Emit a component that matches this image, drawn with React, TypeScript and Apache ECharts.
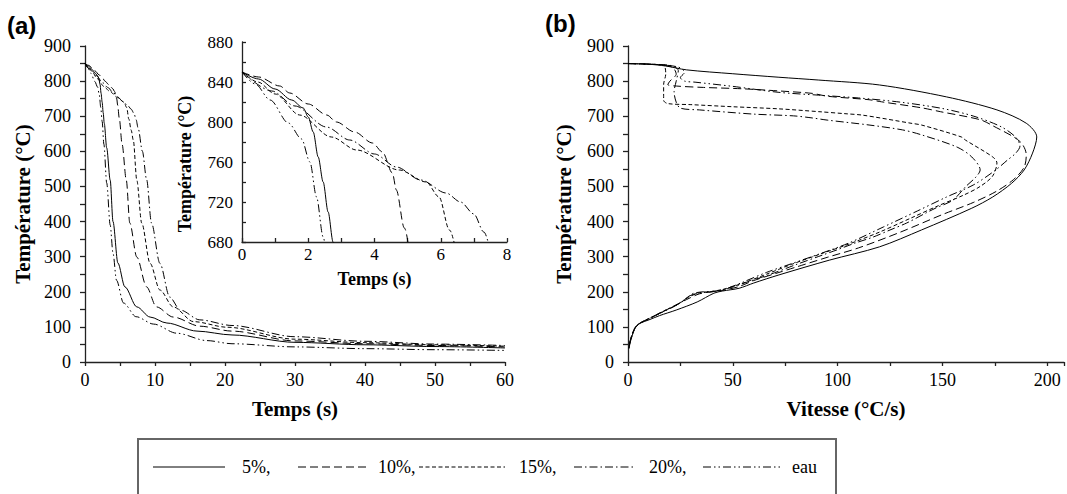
import React, { useEffect, useRef } from "react";
import * as echarts from "echarts";

// ---------- (a) Temps (s) -> Température (°C) ----------
const temps5 = [0, 0.5, 1, 1.5, 1.85, 2.0, 2.15, 2.3, 2.45, 2.6, 2.75, 3.1, 3.6, 4.0, 4.7, 5.7, 7.4, 9.3, 11.7, 16, 21, 30, 40, 50, 60];
const temp5 = [850, 843, 833, 822, 814, 805, 790, 765, 740, 710, 680, 610, 518, 400, 282, 214, 157, 128, 111, 88, 77, 56, 49, 44, 40];

const temps10 = [0, 0.5, 1.14, 1.44, 2.0, 2.56, 2.85, 3.4, 3.94, 4.24, 4.54, 4.66, 4.9, 5.3, 5.9, 6.4, 7.4, 8.8, 10.2, 12.6, 16.4, 21, 30, 40, 50, 60];
const temp10 = [850, 845, 836, 829, 818, 807, 800, 790, 779, 770, 749, 732, 694, 620, 518, 396, 299, 214, 157, 128, 102, 88, 60, 52, 47, 43];

const temps15 = [0, 0.48, 1.0, 1.74, 2.7, 3.46, 4.75, 5.56, 5.95, 6.26, 6.6, 6.9, 7.4, 8.1, 9.3, 10.7, 12.6, 15.5, 20.3, 30, 40, 50, 60];
const temp15 = [850, 840, 828, 807, 785, 772, 752, 740, 725, 692, 660, 632, 518, 396, 281, 205, 157, 115, 99, 65, 55, 49, 45];

const temps20 = [0, 0.9, 1.6, 2.55, 3.25, 4.0, 4.66, 5.4, 6.16, 6.6, 7.0, 7.3, 7.6, 8.2, 8.8, 9.5, 10.7, 12.1, 13.6, 16.4, 21, 30, 40, 50, 60];
const temp20 = [850, 831, 816, 795, 782, 768, 755, 742, 729, 720, 708, 690, 665, 600, 520, 396, 281, 185, 148, 120, 104, 72, 59, 51, 47];

const tempsEau = [0, 0.4, 0.85, 1.4, 1.8, 2.05, 2.25, 2.45, 2.7, 3.1, 3.6, 4.0, 4.5, 5.5, 7.3, 9.8, 13.1, 17.4, 21, 30, 40, 50, 60];
const tempEau = [850, 838, 822, 799, 783, 760, 725, 685, 620, 510, 390, 310, 233, 168, 129, 108, 82, 61, 52, 43, 38, 35, 33];

// ---------- (b) Vitesse (°C/s) -> Température (°C) ----------
const vit5 = [0, 10, 18, 28, 50, 72, 91, 120, 152, 176, 190, 195, 193, 189, 183, 174, 164, 140, 120, 96, 72, 60, 53, 45, 41, 33, 23, 15, 10, 6, 4, 3, 2, 1, 0.5];
const tempV5 = [850, 848, 843, 832, 821, 811, 803, 789, 755, 718, 680, 641, 595, 547, 509, 470, 438, 376, 328, 290, 248, 225, 210, 202, 196, 171, 148, 132, 120, 111, 102, 92, 75, 55, 38];

const vit10 = [0, 12, 21, 23, 20, 19, 23, 36, 55, 72, 88, 95, 115, 121, 140, 149, 168, 174, 187, 190, 189, 184, 176, 165, 150, 130, 110, 95, 80, 72, 60, 53, 46, 40, 34, 28, 22, 15, 10, 6, 4, 3, 2, 1, 0.5];
const tempV10 = [850, 848, 840, 820, 800, 790, 786, 782, 778, 772, 765, 757, 747, 741, 724, 713, 690, 673, 628, 590, 555, 520, 487, 455, 420, 370, 325, 298, 270, 255, 232, 215, 205, 200, 194, 178, 160, 138, 123, 112, 103, 94, 78, 58, 42];

const vit15 = [0, 10, 17, 18, 17, 17, 17, 19, 30, 50, 72, 91, 104, 112, 135, 140, 159, 161, 174, 176, 174, 168, 160, 148, 135, 120, 105, 92, 78, 66, 55, 46, 40, 34, 29, 24, 17, 11, 7, 5, 3, 2, 1, 0.5];
const tempV15 = [850, 848, 845, 820, 790, 760, 745, 736, 733, 727, 721, 713, 707, 703, 680, 675, 641, 632, 584, 567, 530, 500, 475, 445, 410, 370, 335, 308, 278, 250, 225, 208, 201, 197, 185, 165, 145, 127, 115, 107, 93, 78, 58, 42];

const vit20 = [0, 10, 20, 24, 23, 22, 23, 25, 34, 60, 79, 88, 95, 115, 131, 140, 157, 164, 168, 166, 161, 155, 147, 142, 133, 125, 117, 108, 100, 93, 80, 68, 57, 48, 42, 36, 31, 27, 22, 15, 10, 6, 4, 3, 2, 1, 0.5];
const tempV20 = [850, 848, 845, 830, 800, 770, 740, 723, 718, 706, 701, 695, 689, 675, 661, 647, 612, 584, 547, 527, 499, 461, 439, 424, 396, 376, 356, 338, 320, 305, 277, 250, 228, 210, 202, 200, 195, 178, 158, 138, 123, 112, 102, 92, 76, 57, 40];

const vitEau = [0, 14, 24, 27, 25, 27, 32, 50, 72, 91, 110, 130, 150, 165, 178, 185, 187, 185, 181, 175, 165, 152, 138, 122, 105, 90, 78, 66, 55, 46, 40, 35, 30, 25, 18, 12, 8, 5, 3, 2, 1, 0.5];
const tempVEau = [850, 847, 840, 825, 810, 800, 797, 785, 768, 760, 752, 740, 722, 700, 670, 640, 615, 595, 575, 545, 505, 470, 430, 385, 338, 305, 280, 255, 228, 207, 200, 197, 190, 168, 148, 130, 118, 108, 95, 80, 60, 45];

const seriesNames = ["5%", "10%", "15%", "20%", "eau"];
const legendLabels = ["5%,", "10%,", "15%,", "20%,", "eau"];

const zip = (xs: number[], ys: number[]) => xs.map((x, i) => [x, ys[i]]);

const SERIF = "Liberation Serif";
const SANS = "Liberation Sans";
const dashes: any[] = ["solid", [8, 4], [4, 2.5], [8, 3, 1.5, 3], [8, 3, 1.5, 3, 1.5, 3]];

export default function App() {
  const ref = useRef<HTMLDivElement>(null);

  useEffect(() => {
    if (!ref.current) return;
    const chart = echarts.init(ref.current, null, { renderer: "svg" });

    const aData = [zip(temps5, temp5), zip(temps10, temp10), zip(temps15, temp15), zip(temps20, temp20), zip(tempsEau, tempEau)];
    const bData = [zip(vit5, tempV5), zip(vit10, tempV10), zip(vit15, tempV15), zip(vit20, tempV20), zip(vitEau, tempVEau)];

    const axisLineStyle = { color: "#222", width: 1.3 };
    const labelStyle = (size: number) => ({ color: "#000", fontFamily: SERIF, fontSize: size });
    const nameStyle = (size: number) => ({ color: "#000", fontFamily: SERIF, fontSize: size, fontWeight: "bold" as const });

    const mkSeries = (data: number[][][], axis: number, mono: boolean) =>
      data.map((d, i) => ({
        name: seriesNames[i],
        type: "line",
        xAxisIndex: axis,
        yAxisIndex: axis,
        data: d,
        showSymbol: false,
        symbol: "none",
        smooth: 0.3,
        smoothMonotone: mono ? "x" : undefined,
        clip: true,
        silent: true,
        lineStyle: { color: "#000", width: 1, type: dashes[i] },
      }));

    const legendY = 467;
    const legendLines = [
      [153, 225, 242],
      [298, 370, 378],
      [419, 505, 519],
      [574, 636, 649],
      [703, 780, 792],
    ];

    const graphic: any[] = [
      { type: "text", left: 7, top: 13, style: { text: "(a)", fontFamily: SANS, fontWeight: "bold", fontSize: 24, fill: "#000" } },
      { type: "text", left: 545, top: 11, style: { text: "(b)", fontFamily: SANS, fontWeight: "bold", fontSize: 24, fill: "#000" } },
      {
        type: "text",
        x: 185,
        y: 164,
        rotation: Math.PI / 2,
        style: { text: "Température (°C)", fontFamily: SERIF, fontWeight: "bold", fontSize: 18, fill: "#000", align: "center", verticalAlign: "middle" },
      },
      { type: "rect", shape: { x: 138, y: 439, width: 698, height: 90 }, style: { fill: "none", stroke: "#666", lineWidth: 2 } },
    ];
    legendLines.forEach(([x1, x2, tx], i) => {
      graphic.push({
        type: "line",
        shape: { x1, y1: legendY, x2, y2: legendY },
        style: { stroke: "#000", lineWidth: 1, lineDash: dashes[i] === "solid" ? null : dashes[i] },
      });
      graphic.push({
        type: "text",
        x: tx,
        y: legendY,
        style: { text: legendLabels[i], fontFamily: SERIF, fontSize: 18, fill: "#000", align: "left", verticalAlign: "middle" },
      });
    });

    const option: any = {
      animation: false,
      backgroundColor: "#fff",
      textStyle: { fontFamily: SERIF },
      grid: [
        { left: 85, top: 46, width: 420, height: 316 },
        { left: 242, top: 42, width: 265, height: 200 },
        { left: 628, top: 46, width: 437, height: 316 },
      ],
      xAxis: [
        {
          gridIndex: 0, type: "value", min: 0, max: 60, interval: 5,
          name: "Temps (s)", nameLocation: "middle", nameGap: 36, nameTextStyle: nameStyle(21),
          axisLine: { show: true, onZero: false, lineStyle: axisLineStyle },
          axisTick: { show: true, length: 4, lineStyle: axisLineStyle },
          axisLabel: { ...labelStyle(18), margin: 9, formatter: (v: number) => (v % 10 === 0 ? String(v) : "") },
          splitLine: { show: false },
        },
        {
          gridIndex: 1, type: "value", min: 0, max: 8, interval: 1,
          name: "Temps (s)", nameLocation: "middle", nameGap: 28, nameTextStyle: nameStyle(18),
          axisLine: { show: true, onZero: false, lineStyle: axisLineStyle },
          axisTick: { show: true, inside: true, length: 4, lineStyle: axisLineStyle },
          axisLabel: { ...labelStyle(17), margin: 4, formatter: (v: number) => (v % 2 === 0 ? String(v) : "") },
          splitLine: { show: false },
        },
        {
          gridIndex: 2, type: "value", min: 0, max: 208, interval: 25,
          name: "Vitesse (°C/s)", nameLocation: "middle", nameGap: 36, nameTextStyle: nameStyle(21),
          axisLine: { show: true, onZero: false, lineStyle: axisLineStyle },
          axisTick: { show: true, length: 4, lineStyle: axisLineStyle },
          axisLabel: { ...labelStyle(18), margin: 9, formatter: (v: number) => (v % 50 === 0 ? String(v) : "") },
          splitLine: { show: false },
        },
      ],
      yAxis: [
        {
          gridIndex: 0, type: "value", min: 0, max: 900, interval: 50,
          name: "Température (°C)", nameLocation: "middle", nameGap: 52, nameRotate: 90, nameTextStyle: nameStyle(21),
          axisLine: { show: true, onZero: false, lineStyle: axisLineStyle },
          axisTick: { show: true, length: 5, lineStyle: axisLineStyle },
          axisLabel: { ...labelStyle(18), margin: 14, formatter: (v: number) => (v % 100 === 0 ? String(v) : "") },
          splitLine: { show: false },
        },
        {
          gridIndex: 1, type: "value", min: 680, max: 880, interval: 20,
          axisLine: { show: true, onZero: false, lineStyle: axisLineStyle },
          axisTick: { show: true, inside: true, length: 4, lineStyle: axisLineStyle },
          axisLabel: { ...labelStyle(17), margin: 9, formatter: (v: number) => ((v - 680) % 40 === 0 ? String(v) : "") },
          splitLine: { show: false },
        },
        {
          gridIndex: 2, type: "value", min: 0, max: 900, interval: 50,
          name: "Température (°C)", nameLocation: "middle", nameGap: 54, nameRotate: 90, nameTextStyle: nameStyle(21),
          axisLine: { show: true, onZero: false, lineStyle: axisLineStyle },
          axisTick: { show: true, length: 5, lineStyle: axisLineStyle },
          axisLabel: { ...labelStyle(18), margin: 14, formatter: (v: number) => (v % 100 === 0 ? String(v) : "") },
          splitLine: { show: false },
        },
      ],
      series: [...mkSeries(aData, 0, true), ...mkSeries(aData, 1, true), ...mkSeries(bData, 2, false)],
      graphic,
    };

    chart.setOption(option);
    return () => chart.dispose();
  }, []);

  return (
    <div
      ref={ref}
      style={{ position: "fixed", left: 0, top: 0, width: 1067, height: 494, background: "#fff" }}
    />
  );
}
